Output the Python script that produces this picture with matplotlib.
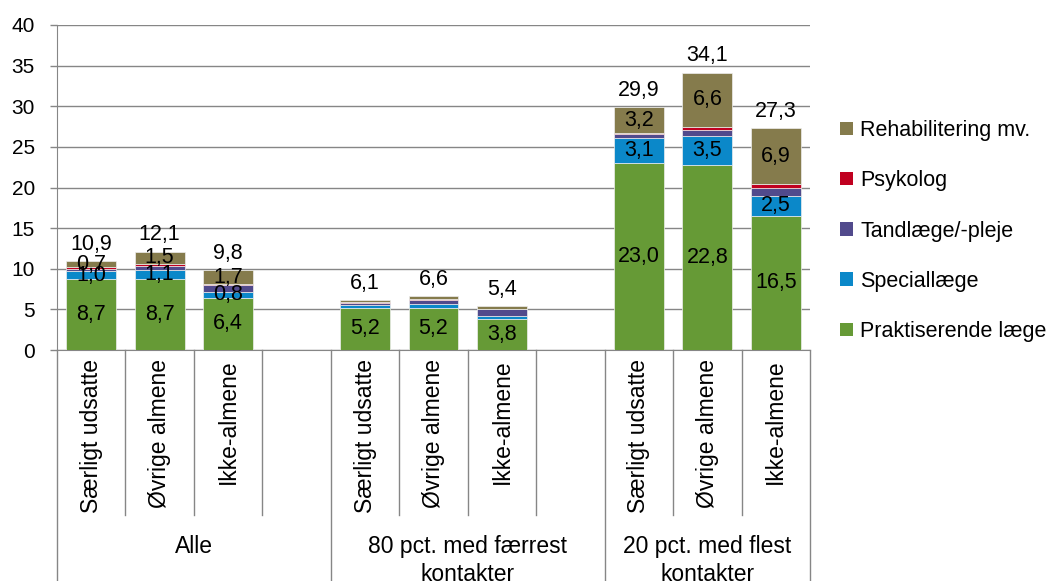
import matplotlib
matplotlib.use("Agg")
import matplotlib.pyplot as plt
from matplotlib.patches import Patch

plt.rcParams['font.family'] = ['Liberation Sans', 'DejaVu Sans']

# ---- data ----
categories = ["Særligt udsatte", "Øvrige almene", "Ikke-almene"] * 3
groups = ["Alle", "80 pct. med færrest\nkontakter", "20 pct. med flest\nkontakter"]
series_names = ["Praktiserende læge", "Speciallæge", "Tandlæge/-pleje", "Psykolog", "Rehabilitering mv."]
prakt = [8.7, 8.7, 6.4, 5.2, 5.2, 3.8, 23.0, 22.8, 16.5]
special = [1.0, 1.1, 0.8, 0.3, 0.5, 0.4, 3.1, 3.5, 2.5]
tand = [0.3, 0.6, 0.8, 0.3, 0.5, 0.8, 0.5, 0.8, 1.0]
psyk = [0.2, 0.2, 0.1, 0.1, 0.1, 0.05, 0.1, 0.4, 0.4]
rehab = [0.7, 1.5, 1.7, 0.2, 0.3, 0.35, 3.2, 6.6, 6.9]
totals = [10.9, 12.1, 9.8, 6.1, 6.6, 5.4, 29.9, 34.1, 27.3]
yticks = [0, 5, 10, 15, 20, 25, 30, 35, 40]

colors = ['#669a36', '#0b88c9', '#514a8c', '#c00020', '#857b4c']
labelled = [True, True, False, False, True]

# slot positions: three bars per group plus one empty slot between groups
positions = [0, 1, 2, 4, 5, 6, 8, 9, 10]
n_slots = 11

W, H = 1046, 581
fig = plt.figure(figsize=(W / 100, H / 100), dpi=100)
x0, x1, ytop, ybot = 57, 810, 25, 350
ax = fig.add_axes([x0 / W, 1 - ybot / H, (x1 - x0) / W, (ybot - ytop) / H])

series = [prakt, special, tand, psyk, rehab]
bottoms = [0.0] * len(prakt)
fs = 15.5
for vals, col, name, lab in zip(series, colors, series_names, labelled):
    ax.bar(positions, vals, bottom=bottoms, width=0.73, color=col,
           edgecolor='#eeeeee', linewidth=0.5, label=name, zorder=3)
    if lab:
        for p, v, b in zip(positions, vals, bottoms):
            if v >= 0.7:
                ax.text(p, b + v / 2, f"{v:.1f}".replace('.', ','), ha='center',
                        va='center', fontsize=fs, zorder=5)
    bottoms = [b + v for b, v in zip(bottoms, vals)]

for p, b, t in zip(positions, bottoms, totals):
    ax.text(p, b + 0.8, f"{t:.1f}".replace('.', ','), ha='center', va='bottom',
            fontsize=fs, zorder=5)

ax.set_xlim(-0.5, n_slots - 0.5)
ax.set_ylim(0, 40)
ax.set_yticks(yticks)
ax.set_yticklabels([str(v) for v in yticks], fontsize=15)
ax.yaxis.grid(True, color='#868686', linewidth=1, zorder=0)
ax.set_axisbelow(True)
for s in ['top', 'right']:
    ax.spines[s].set_visible(False)
ax.spines['left'].set_color('#868686')
ax.spines['bottom'].set_color('#868686')
ax.tick_params(axis='y', length=5, width=1, color='#868686', pad=11)
ax.set_xticks([])

# multi-level category axis
tr = ax.get_xaxis_transform()
axh = ybot - ytop
inner_bot = -(515 - ybot) / axh
outer_bot = -(H - ybot) / axh
for i in range(n_slots + 1):
    xb = i - 0.5
    yb = outer_bot if i in (0, 4, 8, 11) else inner_bot
    ax.plot([xb, xb], [0, yb], transform=tr, color='#868686', lw=1, clip_on=False)
for p, c in zip(positions, categories):
    ax.text(p, -9 / axh, c, transform=tr, rotation=90, ha='center', va='top',
            fontsize=16.5)
group_centers = [1.5, 5.5, 9]
for gc, g in zip(group_centers, groups):
    ax.text(gc, -(535 - ybot) / axh, g, transform=tr, ha='center', va='top',
            fontsize=16.5, linespacing=1.3)

handles = [Patch(facecolor=c, edgecolor='none') for c in colors][::-1]
fig.legend(handles, series_names[::-1], loc='center left',
           bbox_to_anchor=(840 / W, 1 - 231 / H), frameon=False, fontsize=fs,
           handlelength=0.6, handleheight=0.6, handletextpad=0.35, labelspacing=1.36,
           borderaxespad=0, borderpad=0)

fig.savefig('out.png', dpi=100)
